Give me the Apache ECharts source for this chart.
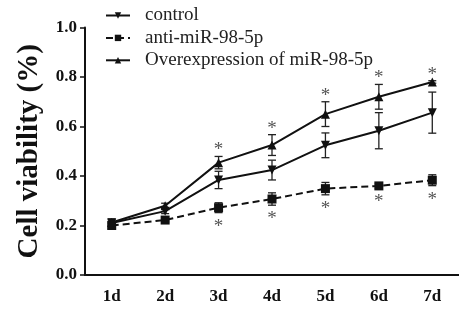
<!DOCTYPE html>
<html lang="en">
<head>
    <meta charset="UTF-8">
    <title>Cell viability</title>
    <style>
        body{margin:0;background:#fff;}
        #main{width:459px;height:311px;}
    </style>
</head>
<body>
<div id="main"></div>
<script src="https://cdn.jsdelivr.net/npm/echarts@6/dist/echarts.min.js"></script>
<script>
    // data
    const days = ['1d', '2d', '3d', '4d', '5d', '6d', '7d'];
    const control = [0.21, 0.258, 0.384, 0.424, 0.524, 0.583, 0.656];
    const controlErr = [0.012, 0.01, 0.035, 0.04, 0.05, 0.073, 0.083];
    const anti = [0.20, 0.222, 0.272, 0.307, 0.349, 0.36, 0.383];
    const antiErr = [0.01, 0.008, 0.02, 0.025, 0.025, 0.01, 0.022];
    const over = [0.212, 0.28, 0.454, 0.525, 0.65, 0.72, 0.78];
    const overErr = [0.015, 0.01, 0.025, 0.042, 0.05, 0.05, 0.005];
    // significance marks (day indexes)
    const starsOver = [2, 3, 4, 5, 6];
    const starsAnti = [2, 3, 4, 5, 6];

    const serif = '"Liberation Serif", "Times New Roman", serif';
    const myChart = echarts.init(document.getElementById('main'));

    function errorBars(name, vals, errs) {
        return {
            type: 'custom',
            name: name + ' err',
            data: vals.map((v, i) => [i, v, errs[i]]),
            silent: true,
            z: 1,
            renderItem: function (params, api) {
                const i = api.value(0), v = api.value(1), e = api.value(2);
                const hi = api.coord([i, v + e]);
                const lo = api.coord([i, v - e]);
                const w = 4;
                const st = {stroke: '#222', lineWidth: 1.3};
                return {
                    type: 'group',
                    children: [
                        {type: 'line', shape: {x1: hi[0], y1: hi[1], x2: lo[0], y2: lo[1]}, style: st},
                        {type: 'line', shape: {x1: hi[0] - w, y1: hi[1], x2: hi[0] + w, y2: hi[1]}, style: st},
                        {type: 'line', shape: {x1: lo[0] - w, y1: lo[1], x2: lo[0] + w, y2: lo[1]}, style: st}
                    ]
                };
            }
        };
    }

    // asterisk above (up) or below the error bar
    function stars(idx, vals, errs, up) {
        return {
            type: 'custom',
            name: 'stars',
            data: idx.map(i => [i, vals[i], errs[i]]),
            silent: true,
            renderItem: function (params, api) {
                const i = api.value(0), v = api.value(1), e = api.value(2);
                const p = api.coord([i, up ? v + e : v - e]);
                return {
                    type: 'text',
                    x: p[0],
                    y: up ? p[1] - 6 : p[1] + 14,
                    style: {
                        text: '*', fill: '#555', font: '19px ' + serif,
                        align: 'center', verticalAlign: 'middle'
                    }
                };
            }
        };
    }

    const option = {
        animation: false,
        grid: {left: 85, right: -2, top: 27.5, bottom: 36},
        legend: {
            orient: 'vertical',
            left: 100,
            top: 1,
            itemWidth: 24,
            itemHeight: 8,
            itemGap: 3.4,
            textStyle: {fontFamily: serif, fontSize: 19, color: '#222', padding: [0, 0, 0, 10]},
            data: ['control', 'anti-miR-98-5p', 'Overexpression of miR-98-5p']
        },
        xAxis: {
            type: 'category',
            data: days,
            axisLine: {lineStyle: {color: '#111', width: 2}},
            axisTick: {alignWithLabel: true, length: 5, lineStyle: {width: 1.5}},
            axisLabel: {fontFamily: serif, fontWeight: 'bold', fontSize: 17, color: '#111', margin: 13}
        },
        yAxis: {
            type: 'value',
            min: 0,
            max: 1,
            interval: 0.2,
            name: 'Cell viability (%)',
            nameLocation: 'middle',
            nameGap: 41,
            nameTextStyle: {fontFamily: serif, fontWeight: 'bold', fontSize: 29, color: '#111'},
            splitLine: {show: false},
            axisLine: {show: true, lineStyle: {color: '#111', width: 2}},
            axisTick: {show: true, length: 5, lineStyle: {width: 1.5}},
            axisLabel: {
                fontFamily: serif, fontWeight: 'bold', fontSize: 17, color: '#111', margin: 8,
                formatter: v => v.toFixed(1)
            }
        },
        series: [
            {
                name: 'control', type: 'line', data: control,
                symbol: 'triangle', symbolRotate: 180, symbolSize: 9,
                itemStyle: {color: '#111'},
                lineStyle: {color: '#111', width: 2}, z: 3
            },
            {
                name: 'anti-miR-98-5p', type: 'line', data: anti,
                symbol: 'rect', symbolSize: 9,
                itemStyle: {color: '#111'},
                lineStyle: {color: '#111', width: 2, type: [7, 4]}, z: 3
            },
            {
                name: 'Overexpression of miR-98-5p', type: 'line', data: over,
                symbol: 'triangle', symbolSize: 9,
                itemStyle: {color: '#111'},
                lineStyle: {color: '#111', width: 2}, z: 3
            },
            errorBars('control', control, controlErr),
            errorBars('anti', anti, antiErr),
            errorBars('over', over, overErr),
            stars(starsOver, over, overErr, true),
            stars(starsAnti, anti, antiErr, false)
        ]
    };
    myChart.setOption(option);
</script>
</body>
</html>
